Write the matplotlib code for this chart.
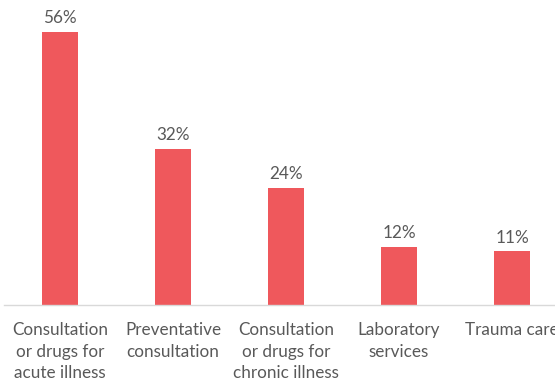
import matplotlib
matplotlib.use("Agg")
import matplotlib.pyplot as plt

categories = [
    "Consultation\nor drugs for\nacute illness",
    "Preventative\nconsultation",
    "Consultation\nor drugs for\nchronic illness",
    "Laboratory\nservices",
    "Trauma care",
]
values = [56, 32, 24, 12, 11]

W, H = 555, 381
fig = plt.figure(figsize=(W / 100, H / 100), dpi=100)
base_px = 305
ax = fig.add_axes([3.5 / W, (H - base_px) / H, 1 - 3.5 / W, base_px / H])

bar_color = "#EF585C"
text_color = "#595959"
font = ["Lato", "DejaVu Sans"]

x = range(len(categories))
ax.bar(x, values, width=0.32, color=bar_color)
ax.set_xlim(-0.5, (W - 3.5) / 113 - 0.5)
ax.set_ylim(0, base_px / 4.875)

for xi, v in zip(x, values):
    ax.annotate(f"{v}%", (xi, v), xytext=(0, 4), textcoords="offset points",
                ha="center", va="bottom", fontsize=12.3, color=text_color,
                family=font)

ax.set_xticks(list(x))
ax.set_xticklabels(categories, fontsize=12.3, color=text_color, family=font,
                   linespacing=1.42)
ax.tick_params(axis="x", length=0, pad=12.5)
ax.set_yticks([])
for s in ["top", "right", "left"]:
    ax.spines[s].set_visible(False)
ax.spines["bottom"].set_color("#D9D9D9")
ax.spines["bottom"].set_linewidth(1)

fig.savefig("out.png", dpi=100)
